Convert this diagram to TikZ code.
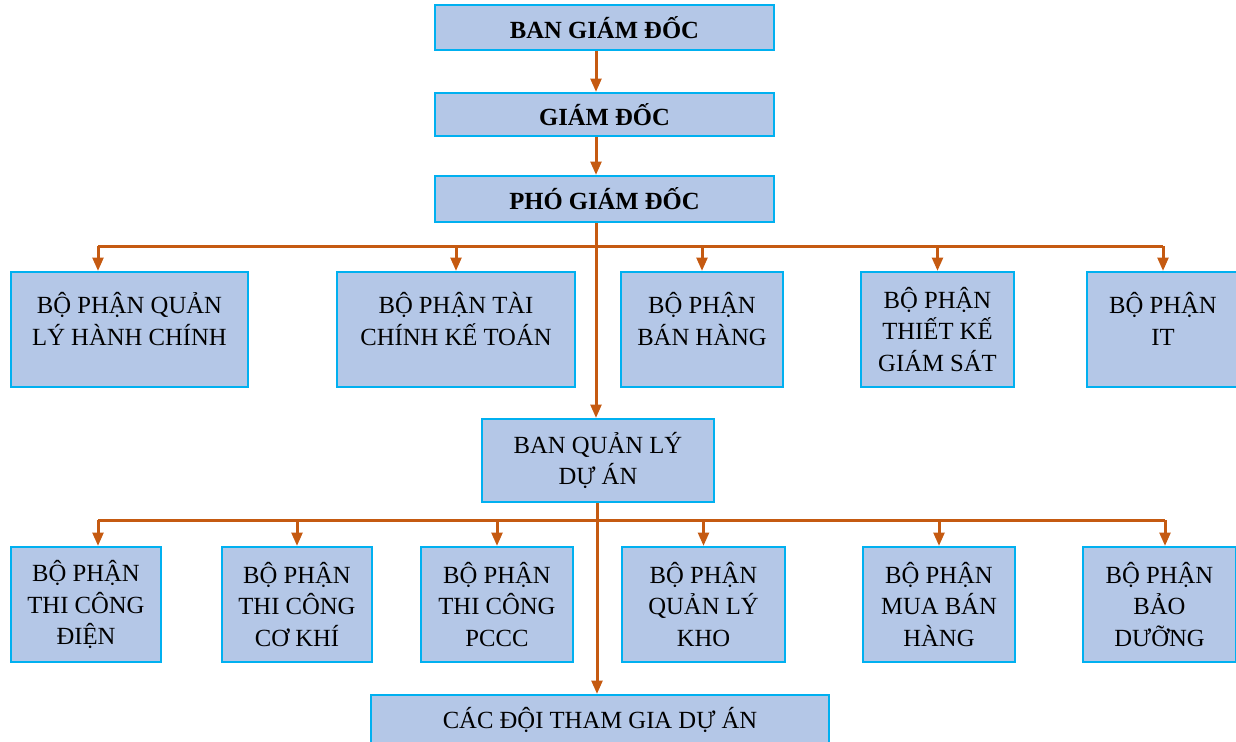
\documentclass[tikz,border=0pt]{standalone}
\usepackage{fontspec}
\setmainfont{Liberation Serif}
\usetikzlibrary{arrows.meta, positioning, calc}
\definecolor{boxfill}{RGB}{180,199,231}
\definecolor{boxline}{RGB}{0,176,240}
\definecolor{rust}{RGB}{197,90,17}
\newcommand\boxfont{\fontsize{18.5}{23.6}\selectfont}

\begin{document}
\begin{tikzpicture}[x=0.75pt, y=-0.75pt,
  box/.style={draw=boxline, line width=1.5pt, fill=boxfill, align=center, inner sep=0pt, font=\boxfont},
  head/.style={box, font=\boxfont\bfseries},
  sz/.style 2 args={minimum width=#1*0.75pt, minimum height=#2*0.75pt},
  txt/.style={align=center, font=\boxfont},
  toptext/.style={label={[txt, yshift=8pt]center:{#1}}},
  wire/.style={draw=rust, line width=2.25pt},
  arr/.style={wire, -{Triangle[length=10pt, width=8pt]}}]
  \clip (0,0) rectangle (1236,742);

  % top of the chart
  \node[head, sz={339}{45}] (bgd) at (604.5,27.5) {BAN GIÁM ĐỐC};
  \node[head, sz={339}{43}] (gd) at (604.5,114.5) {GIÁM ĐỐC};
  \node[head, sz={339}{46}] (pgd) at (604.5,199) {PHÓ GIÁM ĐỐC};

  % first row of departments
  \node[box, sz={237}{115}, toptext={BỘ PHẬN QUẢN\\LÝ HÀNH CHÍNH}] (hanhchinh) at (129.5,329.5) {};
  \node[box, sz={238}{115}, toptext={BỘ PHẬN TÀI\\CHÍNH KẾ TOÁN}] (ketoan) at (456,329.5) {};
  \node[box, sz={162}{115}, toptext={BỘ PHẬN\\BÁN HÀNG}] (banhang) at (702,329.5) {};
  \node[box, sz={153}{115}] (thietke) at (937.5,329.5) {BỘ PHẬN\\THIẾT KẾ\\GIÁM SÁT};
  \node[box, sz={152}{115}, toptext={BỘ PHẬN\\IT}] (it) at (1163,329.5) {};

  \node[box, sz={232}{83}] (qlda) at (598,460.5) {BAN QUẢN LÝ\\DỰ ÁN};

  % second row of departments
  \node[box, sz={150}{115}] (dien) at (86,604.5) {BỘ PHẬN\\THI CÔNG\\ĐIỆN};
  \node[box, sz={150}{115}] (cokhi) at (297,604.5) {BỘ PHẬN\\THI CÔNG\\CƠ KHÍ};
  \node[box, sz={152}{115}] (pccc) at (497,604.5) {BỘ PHẬN\\THI CÔNG\\PCCC};
  \node[box, sz={163}{115}] (kho) at (703.5,604.5) {BỘ PHẬN\\QUẢN LÝ\\KHO};
  \node[box, sz={152}{115}] (muaban) at (939,604.5) {BỘ PHẬN\\MUA BÁN\\HÀNG};
  \node[box, sz={153}{115}] (baoduong) at (1159.5,604.5) {BỘ PHẬN\\BẢO\\DƯỠNG};

  \node[box, sz={458}{50}] (cacdoi) at (600,720) {CÁC ĐỘI THAM GIA DỰ ÁN};

  % connectors
  \coordinate (spine) at (596,0);
  \coordinate (bus1) at (596,246);
  \coordinate (bus2) at (597,520);
  \coordinate (hcTop) at ($(hanhchinh.north)+(-31.5,0)$);
  \coordinate (dienTop) at ($(dien.north)+(12,0)$);
  \coordinate (bdTop) at ($(baoduong.north)+(5.5,0)$);

  \draw[arr] (spine |- bgd.south) -- (spine |- gd.north);
  \draw[arr] (spine |- gd.south) -- (spine |- pgd.north);
  \draw[arr] (spine |- pgd.south) -- (spine |- qlda.north);
  \draw[arr] (bus2 |- qlda.south) -- (bus2 |- cacdoi.north);

  \draw[wire] (bus1 -| hcTop) -- (bus1 -| it.north);
  \foreach \n in {hcTop, ketoan.north, banhang.north, thietke.north, it.north}
    \draw[arr] (bus1 -| \n) -- (\n);

  \draw[wire] (bus2 -| dienTop) -- (bus2 -| bdTop);
  \foreach \n in {dienTop, cokhi.north, pccc.north, kho.north, muaban.north, bdTop}
    \draw[arr] (bus2 -| \n) -- (\n);
\end{tikzpicture}
\end{document}
